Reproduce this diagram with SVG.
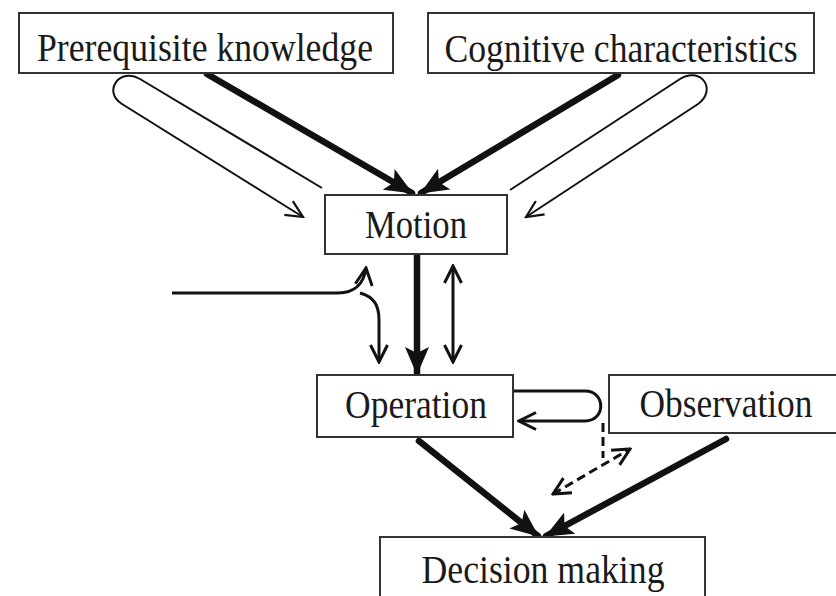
<svg xmlns="http://www.w3.org/2000/svg" width="836" height="596" viewBox="0 0 836 596">
<style>
.box{fill:#fff;stroke:#333;stroke-width:2}
.lbl{font-family:"Liberation Serif","Times New Roman",serif;font-size:39px;fill:#1a1a1a;text-anchor:middle}
.thick{fill:none;stroke:#111;stroke-width:6.5;stroke-linecap:round}
.thin{fill:none;stroke:#111;stroke-width:2}
.mid{fill:none;stroke:#111;stroke-width:3}
.dash{fill:none;stroke:#111;stroke-width:3;stroke-dasharray:9 5}
</style>
<defs>
<marker id="big" markerUnits="userSpaceOnUse" viewBox="0 0 28 24" refX="27" refY="12" markerWidth="28" markerHeight="24" orient="auto">
<path d="M0,0 L28,12 L0,24 L6,12 z" fill="#111"/>
</marker>
<marker id="vthin" markerUnits="userSpaceOnUse" viewBox="0 0 20 18" refX="18" refY="9" markerWidth="20" markerHeight="18" orient="auto-start-reverse">
<path d="M1,1 L18,9 L1,17" fill="none" stroke="#111" stroke-width="2.2"/>
</marker>
<marker id="vmid" markerUnits="userSpaceOnUse" viewBox="0 0 20 20" refX="18" refY="10" markerWidth="20" markerHeight="20" orient="auto-start-reverse">
<path d="M1,1.5 L18,10 L1,18.5" fill="none" stroke="#111" stroke-width="3"/>
</marker>
</defs>
<g id="connectors">
<path class="thick" d="M207,74 L412,193" marker-end="url(#big)"/>
<path class="thick" d="M618,75 L421,193" marker-end="url(#big)"/>
<path class="thin" d="M322,188 L140,79 C120,67 102,91 122,104 L303,217" marker-end="url(#vthin)"/>
<path class="thin" d="M510,190 L680,79 C700,66 718,89 698,104 L526,217" marker-end="url(#vthin)"/>
<path class="thick" d="M417,255 L417,374" marker-end="url(#big)"/>
<path class="mid" d="M453,266 L453,362" marker-start="url(#vmid)" marker-end="url(#vmid)"/>
<path class="mid" d="M172,293 L338,293 C355,293 364,283 366,268" marker-end="url(#vmid)"/>
<path class="mid" d="M360,293 C374,297 379,305 379,320 L379,362" marker-end="url(#vmid)"/>
<path class="mid" d="M513,391 L585,391 C606,391 606,421 585,421 L519,421" marker-end="url(#vmid)"/>
<path class="dash" d="M603,423 L603,458"/>
<path class="dash" d="M553,494 L630,449" marker-start="url(#vmid)" marker-end="url(#vmid)"/>
<path class="thick" d="M419,441 L538,536" marker-end="url(#big)"/>
<path class="thick" d="M726,439 L546,536" marker-end="url(#big)"/>
</g>
<g id="prereq">
<rect class="box" x="19" y="13" width="374" height="60"/>
<text class="lbl" x="205" y="61" textLength="336" lengthAdjust="spacingAndGlyphs">Prerequisite knowledge</text>
</g>
<g id="cognitive">
<rect class="box" x="428" y="13" width="386" height="60"/>
<text class="lbl" x="621" y="62" textLength="353" lengthAdjust="spacingAndGlyphs">Cognitive characteristics</text>
</g>
<g id="motion">
<rect class="box" x="325" y="195" width="182" height="59"/>
<text class="lbl" x="416" y="238" textLength="102" lengthAdjust="spacingAndGlyphs">Motion</text>
</g>
<g id="operation">
<rect class="box" x="317" y="375" width="196" height="62"/>
<text class="lbl" x="416" y="418" textLength="142" lengthAdjust="spacingAndGlyphs">Operation</text>
</g>
<g id="observation">
<rect class="box" x="609" y="375" width="240" height="58"/>
<text class="lbl" x="726" y="417" textLength="173" lengthAdjust="spacingAndGlyphs">Observation</text>
</g>
<g id="decision">
<rect class="box" x="380" y="537" width="325" height="80"/>
<text class="lbl" x="543" y="583" textLength="243" lengthAdjust="spacingAndGlyphs">Decision making</text>
</g>
</svg>
